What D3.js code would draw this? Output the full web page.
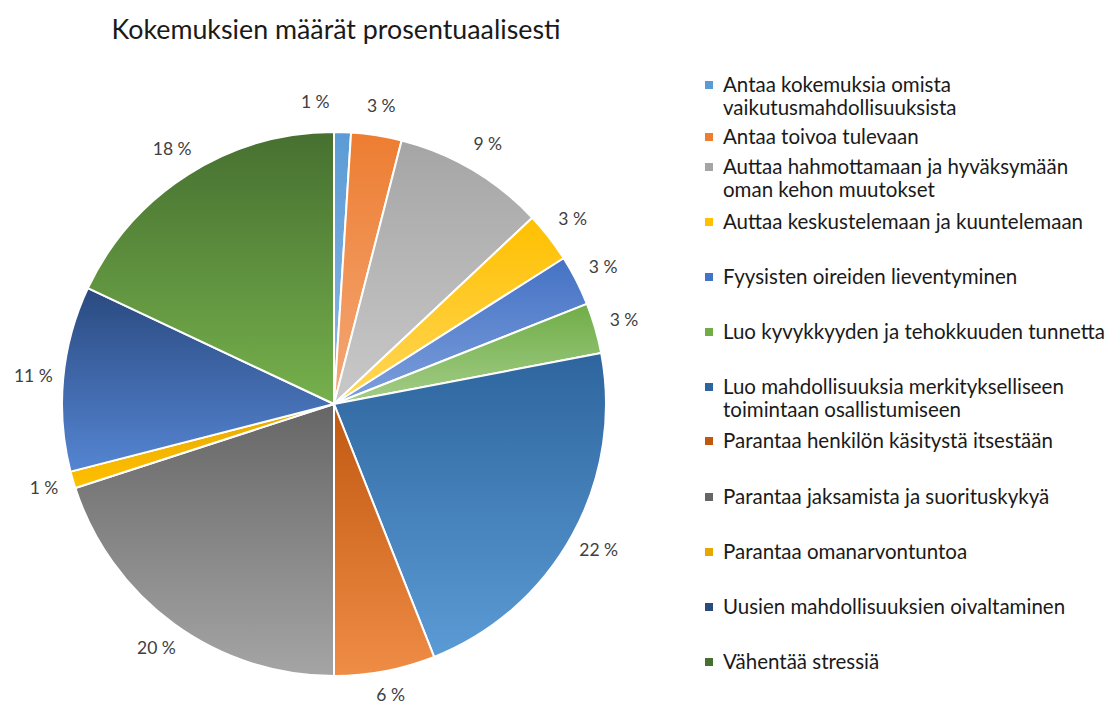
<!DOCTYPE html>
<html>
<head>
<meta charset="utf-8">
<script src="https://cdn.jsdelivr.net/npm/d3@7/dist/d3.min.js"></script>
<style>
    body { margin: 0; background: #fff; }
    svg { display: block; font-family: Lato, "Open Sans", sans-serif; }
</style>
</head>
<body>
<svg id="chart" width="1110" height="709"></svg>
<script>
// Chart data
const categories = [
    'Antaa kokemuksia omista vaikutusmahdollisuuksista',
    'Antaa toivoa tulevaan',
    'Auttaa hahmottamaan ja hyväksymään oman kehon muutokset',
    'Auttaa keskustelemaan ja kuuntelemaan',
    'Fyysisten oireiden lieventyminen',
    'Luo kyvykkyyden ja tehokkuuden tunnetta',
    'Luo mahdollisuuksia merkitykselliseen toimintaan osallistumiseen',
    'Parantaa henkilön käsitystä itsestään',
    'Parantaa jaksamista ja suorituskykyä',
    'Parantaa omanarvontuntoa',
    'Uusien mahdollisuuksien oivaltaminen',
    'Vähentää stressiä'
];
const percentages = [1, 3, 9, 3, 3, 3, 22, 6, 20, 1, 11, 18];

// Legend wraps (Excel broke these labels in two lines)
const legendLines = [
    ['Antaa kokemuksia omista', 'vaikutusmahdollisuuksista'],
    ['Antaa toivoa tulevaan'],
    ['Auttaa hahmottamaan ja hyväksymään', 'oman kehon muutokset'],
    ['Auttaa keskustelemaan ja kuuntelemaan'],
    ['Fyysisten oireiden lieventyminen'],
    ['Luo kyvykkyyden ja tehokkuuden tunnetta'],
    ['Luo mahdollisuuksia merkitykselliseen', 'toimintaan osallistumiseen'],
    ['Parantaa henkilön käsitystä itsestään'],
    ['Parantaa jaksamista ja suorituskykyä'],
    ['Parantaa omanarvontuntoa'],
    ['Uusien mahdollisuuksien oivaltaminen'],
    ['Vähentää stressiä']
];

// Office palette, gradient from top shade to bottom shade
const topColors = ['#5b9bd5', '#ed7d31', '#a5a5a5', '#ffc000', '#4472c4', '#70ad47',
                   '#2e659e', '#c05810', '#666666', '#e6a800', '#2a4a80', '#467030'];
const bottomColors = ['#8ab8e6', '#f4a877', '#c9c9c9', '#ffd75a', '#7d9fdc', '#a3cd88',
                      '#5b9bd5', '#ef8c45', '#a5a5a5', '#ffc000', '#5585d2', '#76b04c'];

const svg = d3.select('#chart');
const width = 1110, height = 709;
const cx = 334, cy = 404, radius = 272;

// Title
svg.append('text')
    .attr('x', 336)
    .attr('y', 39)
    .attr('text-anchor', 'middle')
    .attr('font-size', '26.8px')
    .attr('fill', '#1a1a1a')
    .text('Kokemuksien määrät prosentuaalisesti');

// Gradients, one per slice
const defs = svg.append('defs');
percentages.forEach((d, i) => {
    const g = defs.append('linearGradient')
        .attr('id', `grad${i}`)
        .attr('x1', 0).attr('y1', 0)
        .attr('x2', 0).attr('y2', 1);
    g.append('stop').attr('offset', '0%').attr('stop-color', topColors[i]);
    g.append('stop').attr('offset', '100%').attr('stop-color', bottomColors[i]);
});

const data = categories.map((c, i) => ({ key: c, value: percentages[i], index: i }));

const pie = d3.pie()
    .value(d => d.value)
    .sort(null);

const arc = d3.arc()
    .innerRadius(0)
    .outerRadius(radius);

const arcs = pie(data);

const chartGroup = svg.append('g')
    .attr('transform', `translate(${cx},${cy})`);

chartGroup.selectAll('.segment')
    .data(arcs)
    .join('path')
    .attr('class', 'segment')
    .attr('d', arc)
    .attr('fill', d => `url(#grad${d.data.index})`)
    .attr('stroke', 'white')
    .attr('stroke-width', 2)
    .attr('stroke-linejoin', 'round');

// Data labels outside the pie
const labelRadius = radius + 30;
const maxLabelY = height - 14 - cy; // keep the bottom label inside the frame
const labelPos = arcs.map(d => {
    const a = (d.startAngle + d.endAngle) / 2;
    const y = -Math.cos(a) * labelRadius;
    return { x: Math.sin(a) * labelRadius, y: Math.min(y, maxLabelY), d };
});
// Push crowded neighbours apart (Excel nudges the first tiny slice label left)
for (let i = labelPos.length - 1; i > 0; i--) {
    const a = labelPos[i - 1], b = labelPos[i];
    if (Math.abs(a.y - b.y) < 16 && b.x - a.x < 66 && b.x > a.x) {
        a.x = b.x - 66;
    }
}

chartGroup.selectAll('.segment-label')
    .data(labelPos)
    .join('text')
    .attr('class', 'segment-label')
    .attr('x', p => p.x)
    .attr('y', p => p.y)
    .attr('dy', '0.35em')
    .attr('text-anchor', 'middle')
    .attr('font-size', '17.5px')
    .attr('fill', '#404040')
    .text(p => `${p.d.data.value} %`);

// Legend
const legendX = 705;
const legendRowY = [85, 137, 167, 222, 277, 332, 387, 441, 497, 552, 607, 662];
const lineStep = 23;

const legend = svg.append('g').attr('class', 'legend');
const items = legend.selectAll('.legend-item')
    .data(data)
    .join('g')
    .attr('class', 'legend-item')
    .attr('transform', (d, i) => `translate(${legendX},${legendRowY[i]})`);

items.append('rect')
    .attr('x', 0)
    .attr('y', -4)
    .attr('width', 8)
    .attr('height', 8)
    .attr('fill', d => topColors[d.index]);

items.append('text')
    .attr('font-size', '20.5px')
    .attr('fill', '#1a1a1a')
    .selectAll('tspan')
    .data(d => legendLines[d.index])
    .join('tspan')
    .attr('x', 18)
    .attr('y', (l, j) => j * lineStep)
    .attr('dy', '0.35em')
    .text(l => l);
</script>
</body>
</html>
